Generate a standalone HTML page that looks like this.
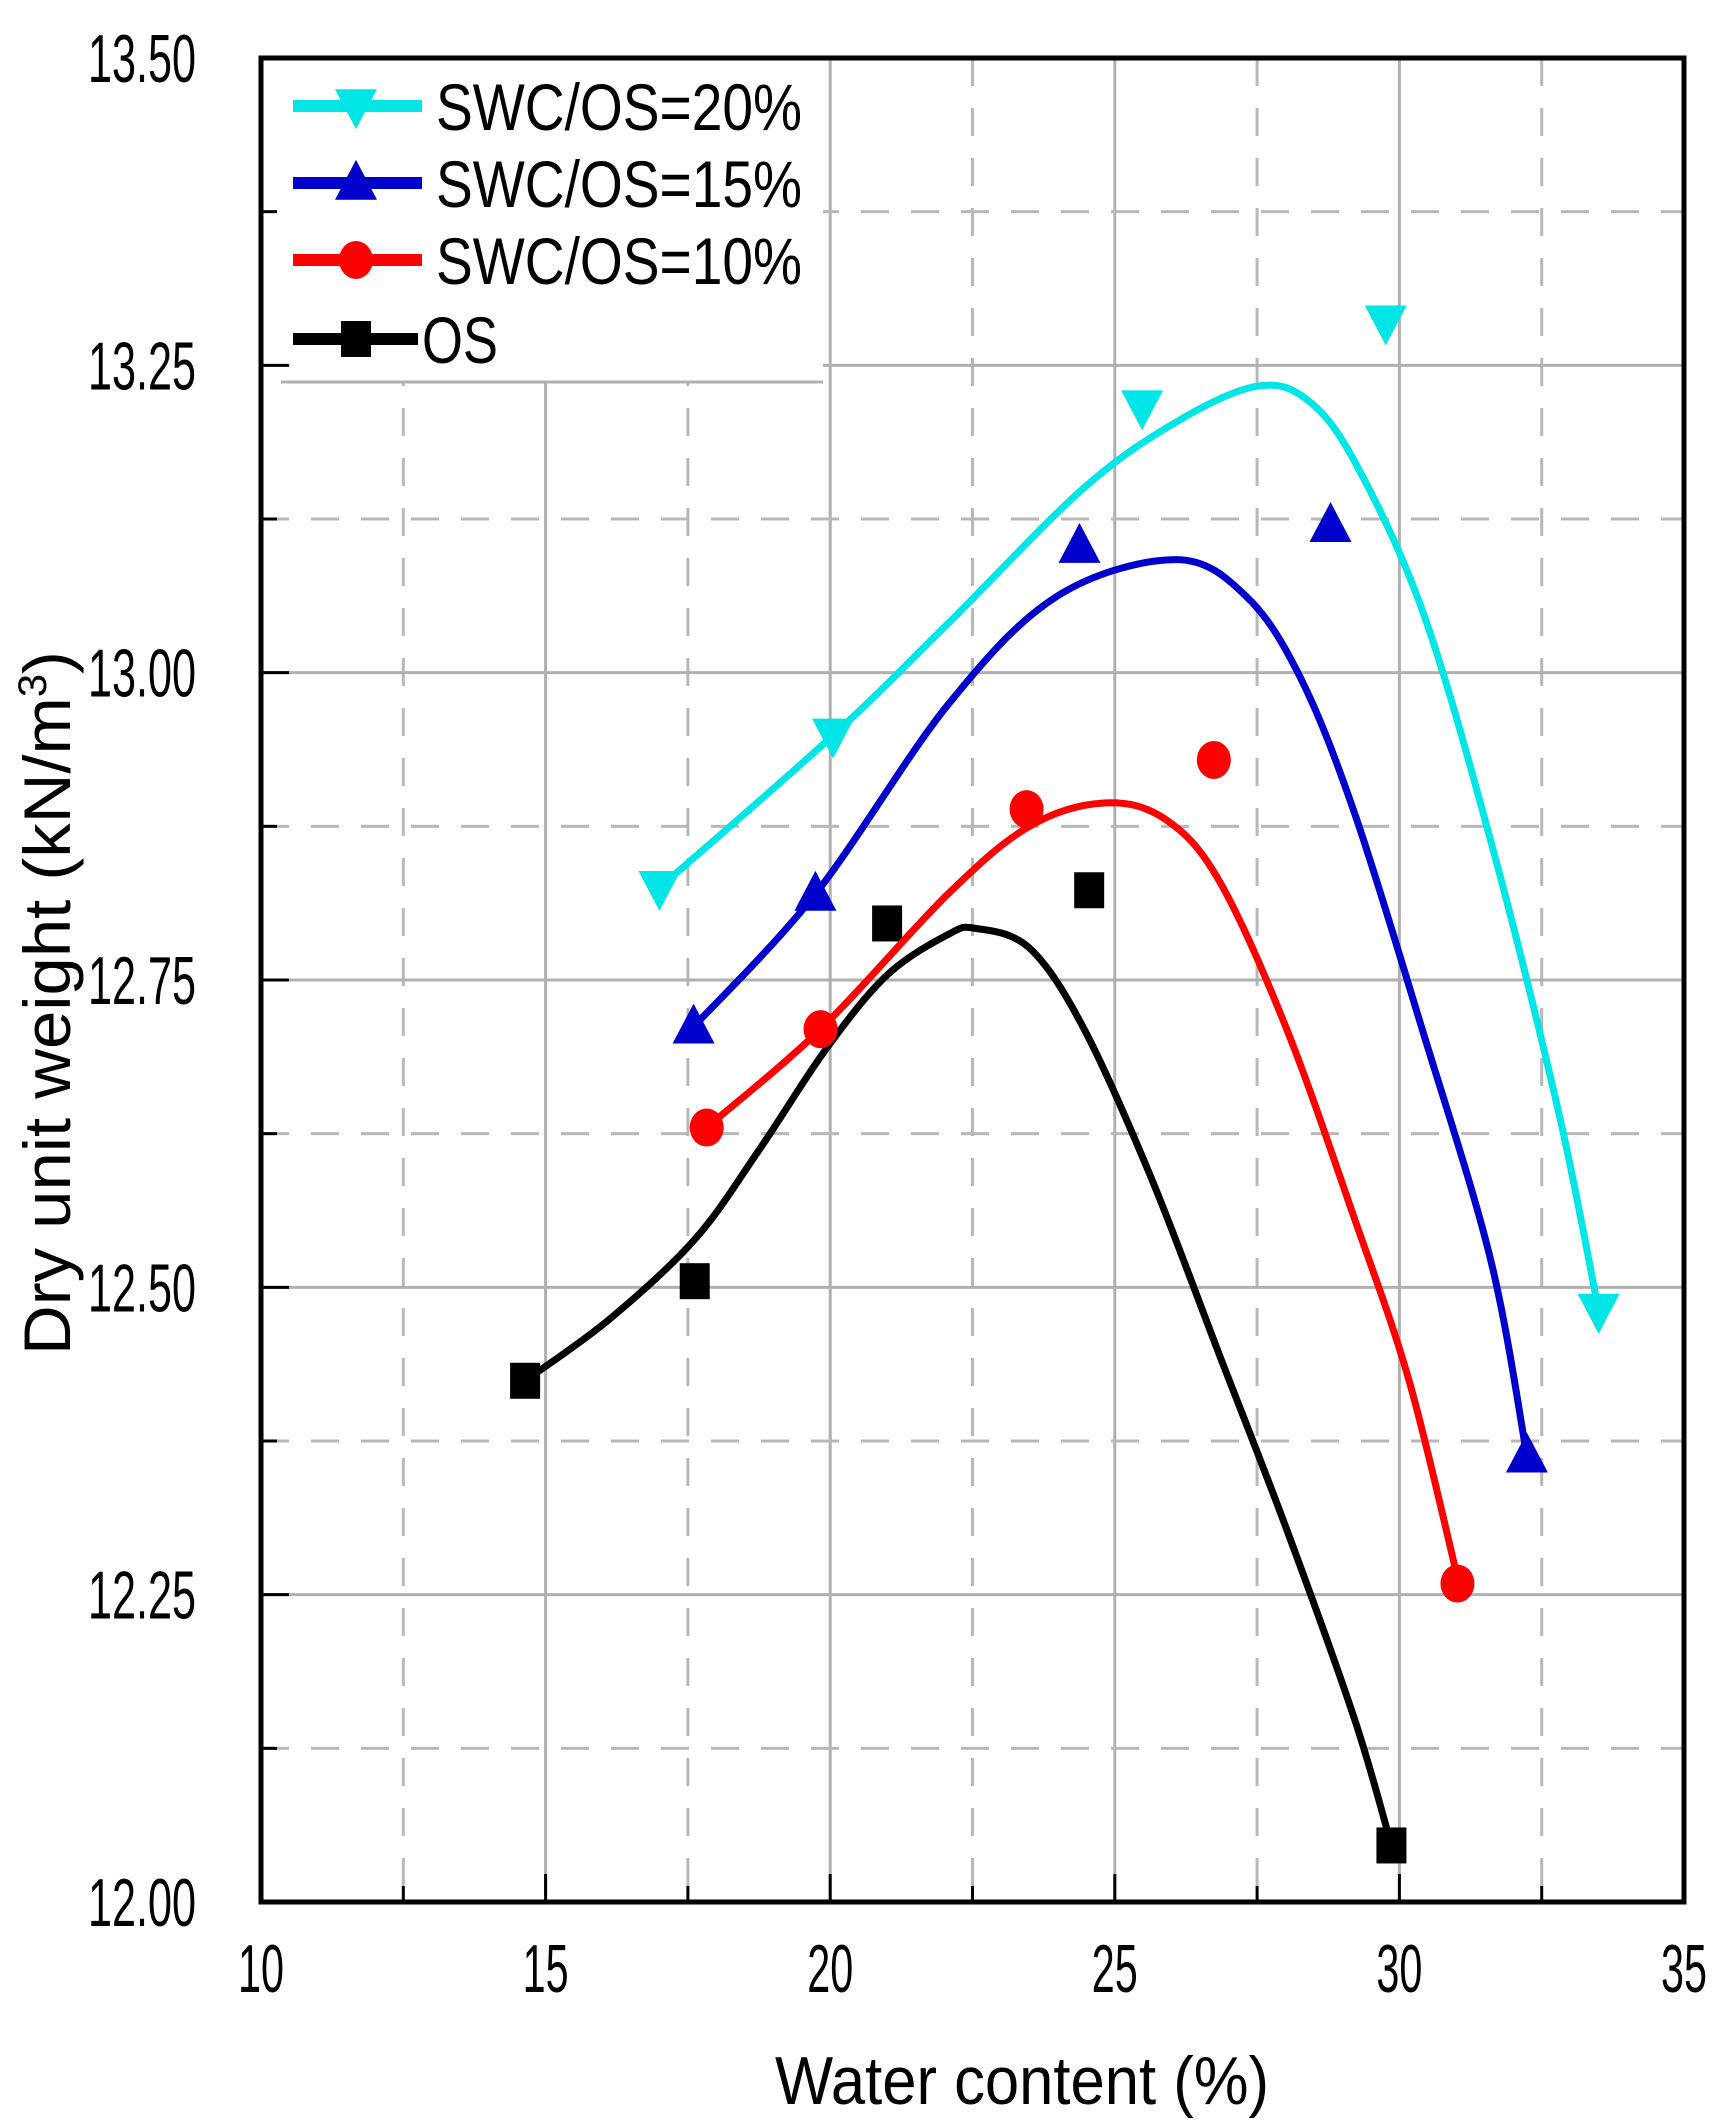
<!DOCTYPE html>
<html><head><meta charset="utf-8"><style>
html,body{margin:0;padding:0;background:#fff;}
svg{display:block;font-family:"Liberation Sans",Arial,sans-serif;}
</style></head><body>
<svg id="chart" width="1728" height="2124" viewBox="0 0 1728 2124" xmlns="http://www.w3.org/2000/svg"></svg>
<script>
const xTicks=[10,15,20,25,30,35];
const yTicks=[12.00,12.25,12.50,12.75,13.00,13.25,13.50];
const seriesNames=["SWC/OS=20%","SWC/OS=15%","SWC/OS=10%","OS"];
const osX=[14.64,17.62,21.0,24.55,29.86];
const osY=[12.424,12.505,12.796,12.823,12.046];
const s10X=[17.83,19.83,23.45,26.74,31.02];
const s10Y=[12.63,12.71,12.889,12.929,12.259];
const s15X=[17.6,19.74,24.38,28.79,32.24];
const s15Y=[12.712,12.82,13.103,13.12,12.363];
const s20X=[17.0,20.05,25.48,29.76,33.5];
const s20Y=[12.825,12.949,13.216,13.285,12.481];
const osFitX=[14.64,16.12,17.62,18.74,19.93,21.0,22.07,22.55,23.5,24.45,25.64,26.83,28.02,29.21,29.86];
const osFitY=[12.424,12.474,12.539,12.611,12.694,12.754,12.787,12.792,12.776,12.711,12.589,12.446,12.303,12.149,12.046];
const s10FitX=[17.83,19.83,22.07,23.5,24.81,25.88,26.83,28.02,29.21,30.17,31.02];
const s10FitY=[12.63,12.71,12.82,12.875,12.894,12.881,12.831,12.71,12.556,12.424,12.264];
const s15FitX=[17.6,19.74,22.07,23.98,26.07,27.31,28.26,29.21,30.4,31.6,32.24];
const s15FitY=[12.712,12.82,12.974,13.062,13.092,13.062,12.996,12.886,12.71,12.523,12.363];
const s20FitX=[17.0,20.05,22.07,24.45,26.12,27.5,28.38,29.21,30.4,31.6,32.79,33.5];
const s20FitY=[12.825,12.949,13.04,13.15,13.205,13.233,13.222,13.172,13.051,12.864,12.644,12.481];

const NS="http://www.w3.org/2000/svg";
const svg=document.getElementById('chart');
const L=261,R=1684,T=58,B=1902;
const xs=v=>L+(v-10)/25*(R-L);
const ys=v=>B-(v-12)/1.5*(B-T);
function mk(tag,attrs,parent){const e=document.createElementNS(NS,tag);for(const k in attrs)e.setAttribute(k,attrs[k]);(parent||svg).appendChild(e);return e;}

const grid=mk('g',{});


for(let i=0;i<xTicks.length-1;i++){
  const v=xTicks[i];
  if(i>0){const l=mk('line',{x1:xs(v),x2:xs(v),y1:T,y2:B,stroke:'#b0b0b0','stroke-width':3},grid);
  
  }
  const m=v+2.5;
  const d=mk('line',{x1:xs(m),x2:xs(m),y1:T,y2:B,stroke:'#b8b8b8','stroke-width':3,'stroke-dasharray':'28 22'},grid);
  
  
}
for(let i=0;i<yTicks.length-1;i++){
  const v=yTicks[i];
  if(i>0){const l=mk('line',{x1:L,x2:R,y1:ys(v),y2:ys(v),stroke:'#b0b0b0','stroke-width':3},grid);
  
  }
  const m=v+0.125;
  const d=mk('line',{x1:L,x2:R,y1:ys(m),y2:ys(m),stroke:'#b8b8b8','stroke-width':3,'stroke-dasharray':'28 22'},grid);
  
  
}
const lb=mk('rect',{x:L,y:T,width:562,height:324,fill:'#fff'});


const lbl=mk('line',{x1:L+20,x2:L+562,y1:T+324,y2:T+324,stroke:'#b0b0b0','stroke-width':3});



function smooth(px,py){
  const p=px.map((x,i)=>[xs(x),ys(py[i])]);
  let d=`M${p[0][0]},${p[0][1]}`;
  for(let i=0;i<p.length-1;i++){
    const p0=p[Math.max(i-1,0)],p1=p[i],p2=p[i+1],p3=p[Math.min(i+2,p.length-1)];
    const c1=[p1[0]+(p2[0]-p0[0])/6,p1[1]+(p2[1]-p0[1])/6];
    const c2=[p2[0]-(p3[0]-p1[0])/6,p2[1]-(p3[1]-p1[1])/6];
    d+=` C${c1[0]},${c1[1]} ${c2[0]},${c2[1]} ${p2[0]},${p2[1]}`;
  }
  return d;
}
const colors=['#00e5e5','#0000cc','#ff0000','#000000'];
const fits=[[s20FitX,s20FitY],[s15FitX,s15FitY],[s10FitX,s10FitY],[osFitX,osFitY]];
const pts=[[s20X,s20Y],[s15X,s15Y],[s10X,s10Y],[osX,osY]];
const shapes=['down','up','circle','square'];
function marker(shape,cx,cy,c,parent){
  const s=21;let e;
  if(shape==='down')e=mk('polygon',{points:`${cx-s},${cy-s*0.8} ${cx+s},${cy-s*0.8} ${cx},${cy+s*1.1}`,fill:c},parent);
  else if(shape==='up')e=mk('polygon',{points:`${cx-s},${cy+s*0.8} ${cx+s},${cy+s*0.8} ${cx},${cy-s*1.1}`,fill:c},parent);
  else if(shape==='circle')e=mk('ellipse',{cx,cy,rx:17,ry:19,fill:c},parent);
  else e=mk('rect',{x:cx-15,y:cy-18,width:30,height:36,fill:c},parent);
  return e;
}
for(let k=3;k>=0;k--){
  const g=mk('g',{});
  
  
  const path=mk('path',{d:smooth(fits[k][0],fits[k][1]),fill:'none',stroke:colors[k],'stroke-width':7},g);
  
  
  pts[k][0].forEach((x,i)=>{
    const m=marker(shapes[k],xs(x),ys(pts[k][1][i]),colors[k],g);
    
    
  });
}

const ax=mk('g',{});


const frame=mk('rect',{x:L,y:T,width:R-L,height:B-T,fill:'none',stroke:'#000','stroke-width':5},ax);


xTicks.forEach((v,i)=>{
  const t=mk('line',{x1:xs(v),x2:xs(v),y1:B,y2:B-28,stroke:'#000','stroke-width':3},ax);
  
  
  if(i<xTicks.length-1){const m=mk('line',{x1:xs(v+2.5),x2:xs(v+2.5),y1:B,y2:B-16,stroke:'#000','stroke-width':3},ax);
  
  }
  const tx=mk('text',{x:xs(v),y:1992,'text-anchor':'middle','font-size':68,fill:'#000',textLength:46,lengthAdjust:'spacingAndGlyphs'},ax);
  tx.textContent=String(v);
  
  
});
yTicks.forEach((v,i)=>{
  const t=mk('line',{x1:L,x2:L+28,y1:ys(v),y2:ys(v),stroke:'#000','stroke-width':3},ax);
  
  
  if(i<yTicks.length-1){const m=mk('line',{x1:L,x2:L+16,y1:ys(v+0.125),y2:ys(v+0.125),stroke:'#000','stroke-width':3},ax);
  
  }
  const tx=mk('text',{x:88,y:ys(v)+24,'font-size':68,fill:'#000',textLength:108,lengthAdjust:'spacingAndGlyphs'},ax);
  tx.textContent=v.toFixed(2);
  
  
});
const xt=mk('text',{x:775,y:2104,'font-size':68,fill:'#000',textLength:494,lengthAdjust:'spacingAndGlyphs'});
xt.textContent='Water content (%)';


const yt=mk('text',{x:0,y:0,'font-size':66,fill:'#000',transform:'translate(70,1355) rotate(-90)',textLength:704,lengthAdjust:'spacingAndGlyphs'});
yt.innerHTML='Dry unit weight (kN/m<tspan dy="-24" font-size="40">3</tspan><tspan dy="24">)</tspan>';



const lg=mk('g',{});


const ly=[106,183,260,339];
for(let k=0;k<4;k++){
  const e=mk('g',{},lg);
  
  
  const x2=k===3?418:422;
  mk('line',{x1:293,x2:x2,y1:ly[k],y2:ly[k],stroke:colors[k],'stroke-width':12},e);
  marker(shapes[k],356,ly[k],colors[k],e);
  const attrs={x:k===3?422:436,y:ly[k]+24,'font-size':66,fill:'#000'};
  if(k<3){attrs.textLength=366;attrs.lengthAdjust='spacingAndGlyphs';}
  else{attrs.textLength=76;attrs.lengthAdjust='spacingAndGlyphs';}
  const t=mk('text',attrs,e);
  t.textContent=seriesNames[k];
}
</script>
</body></html>
